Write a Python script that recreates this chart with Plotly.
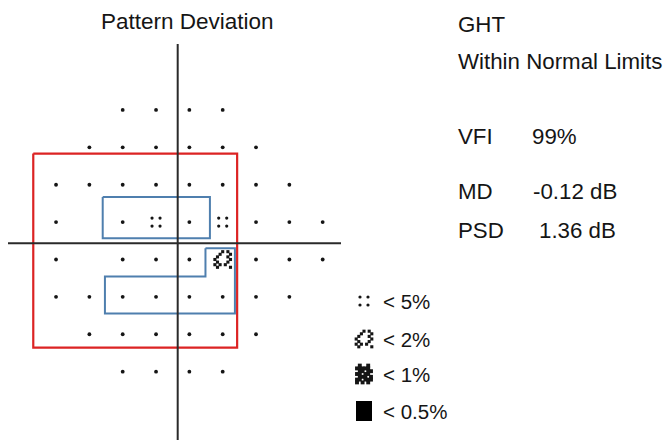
import plotly.graph_objects as go

# ---- Test grid (24-2, degrees), one list per row, blind spot omitted ----
ROW_Y = [21, 15, 9, 3, -3, -9, -15, -21]
ROW_X = [
    [-9, -3, 3, 9],
    [-15, -9, -3, 3, 9, 15],
    [-21, -15, -9, -3, 3, 9, 15, 21],
    [-21, -9, -3, 3, 9, 15, 21, 27],
    [-21, -9, -3, 3, 9, 15, 21, 27],
    [-21, -15, -9, -3, 3, 9, 15, 21],
    [-15, -9, -3, 3, 9, 15],
    [-9, -3, 3, 9],
]
# pattern deviation probability at flagged points (everything else is normal)
FLAGGED_X = [-3, 9, 9]
FLAGGED_Y = [3, 3, -3]
FLAGGED_P = ["<5%", "<5%", "<2%"]

LEGEND_LEVELS = ["<5%", "<2%", "<1%", "<0.5%"]
LEGEND_LABELS = ["< 5%", "< 2%", "< 1%", "< 0.5%"]

# GHT sector outlines (degrees)
RED_BOX_X = [-25.1, 11.6, 11.6, -25.1, -25.1]
RED_BOX_Y = [14.0, 14.0, -17.15, -17.15, 14.0]
BLUE_UP_X = [-12.6, 6.7, 6.7, -12.6, -12.6]
BLUE_UP_Y = [7.05, 7.05, 0.4, 0.4, 7.05]
BLUE_LO_X = [5.9, 11.2, 11.2, -12.2, -12.2, 5.9, 5.9]
BLUE_LO_Y = [-1.2, -1.2, -11.65, -11.65, -5.75, -5.75, -1.2]

# index values
INFO_LINES = [
    ("GHT", None),
    ("Within Normal Limits", None),
    ("VFI", "99%"),
    ("MD", "-0.12 dB"),
    ("PSD", "1.36 dB"),
]

W, H = 670, 440
X0, XS = 172.7, 33.33 / 6.0   # pixel of 0 deg, pixels per degree
Y0, YS = 240.8, 37.38 / 6.0

def px_to_x(px):
    return (px - X0) / XS

def py_to_y(py):
    return (Y0 - py) / YS

INK = "#151515"
FONT = "Liberation Sans, Arial, Helvetica, sans-serif"

# glyph cell patterns (rows top->bottom)
GLYPHS = {
    "<2%": [
        "...X.X.",
        "..X...X",
        ".X...X.",
        "X.....X",
        ".X...X.",
        "X.X.X..",
        ".X....X",
    ],
    "<1%": [
        ".X..X.",
        "XXXXX.",
        ".XX.XX",
        "XX.XX.",
        ".XXX.X",
        "XX.XXX",
        "X.X.X.",
    ],
}


def glyph_points(level, cx, cy):
    """Return x/y lists (degrees) of the sub-dots making a probability glyph."""
    xs, ys = [], []
    if level == "<5%":
        for dx in (-4, 4):
            for dy in (-4, 4):
                xs.append(cx + dx / XS)
                ys.append(cy + dy / YS)
        return xs, ys, 3.2
    rows = GLYPHS[level]
    n = len(rows)
    step = 2.6 if level == "<2%" else 2.8
    for r, row in enumerate(rows):
        for c, ch in enumerate(row):
            if ch == "X":
                dx = (c - (len(row) - 1) / 2) * step
                dy = (r - (n - 1) / 2) * step
                xs.append(cx + dx / XS)
                ys.append(cy - dy / YS)
    return xs, ys, 3.1 if level == "<2%" else 3.9


flag_lookup = {(x, y): p for x, y, p in zip(FLAGGED_X, FLAGGED_Y, FLAGGED_P)}

fig = go.Figure()

# normal points
nx, ny = [], []
for y, row in zip(ROW_Y, ROW_X):
    for x in row:
        if (x, y) not in flag_lookup:
            nx.append(x)
            ny.append(y)
fig.add_trace(go.Scatter(x=nx, y=ny, mode="markers",
                         marker=dict(size=3.8, color=INK, symbol="circle"),
                         hoverinfo="skip", showlegend=False))

# flagged points
for (x, y), p in flag_lookup.items():
    gx, gy, s = glyph_points(p, x, y)
    fig.add_trace(go.Scatter(x=gx, y=gy, mode="markers",
                             marker=dict(size=s, color=INK, symbol="square"
                                         if p != "<5%" else "circle"),
                             hoverinfo="skip", showlegend=False))

# sector outlines
fig.add_trace(go.Scatter(x=RED_BOX_X, y=RED_BOX_Y, mode="lines",
                         line=dict(color="#dc2323", width=2.2),
                         hoverinfo="skip", showlegend=False))
for bx, by in ((BLUE_UP_X, BLUE_UP_Y), (BLUE_LO_X, BLUE_LO_Y)):
    fig.add_trace(go.Scatter(x=bx, y=by, mode="lines",
                             line=dict(color="#4f7fae", width=2),
                             hoverinfo="skip", showlegend=False))

# cross-hair axes
fig.add_shape(type="line", x0=px_to_x(177.7), x1=px_to_x(177.7),
              y0=py_to_y(44), y1=py_to_y(445), line=dict(color="#2a2a2a", width=2))
fig.add_shape(type="line", x0=px_to_x(8), x1=px_to_x(341),
              y0=py_to_y(243.3), y1=py_to_y(243.3), line=dict(color="#2a2a2a", width=2))

# legend glyphs and labels
LEG_PX = 364
LEG_PY = [301, 339, 374, 411]
for lvl, lab, py in zip(LEGEND_LEVELS, LEGEND_LABELS, LEG_PY):
    cx, cy = px_to_x(LEG_PX), py_to_y(py)
    if lvl == "<0.5%":
        fig.add_shape(type="rect", x0=px_to_x(356), x1=px_to_x(372),
                      y0=py_to_y(py - 10), y1=py_to_y(py + 10),
                      fillcolor="#000000", line=dict(width=0))
    else:
        gx, gy, s = glyph_points(lvl, cx, cy)
        fig.add_trace(go.Scatter(x=gx, y=gy, mode="markers",
                                 marker=dict(size=s, color=INK,
                                             symbol="square" if lvl != "<5%" else "circle"),
                                 hoverinfo="skip", showlegend=False))
    fig.add_annotation(x=381 / W, y=1 - py / H, xref="paper", yref="paper",
                       text=lab, showarrow=False, xanchor="left", yanchor="middle",
                       font=dict(family=FONT, size=20.5, color=INK))

# title
fig.add_annotation(x=187.5 / W, y=1 - 21 / H, xref="paper", yref="paper",
                   text="Pattern Deviation", showarrow=False,
                   xanchor="center", yanchor="middle",
                   font=dict(family=FONT, size=22.5, color=INK))

# index block
INFO_PY = [24, 62, 137, 192, 230]
VALUE_PX = [None, None, 530, 531, 537]
for (label, value), py, vpx in zip(INFO_LINES, INFO_PY, VALUE_PX):
    fig.add_annotation(x=456 / W, y=1 - py / H, xref="paper", yref="paper",
                       text=label, showarrow=False, xanchor="left", yanchor="middle",
                       font=dict(family=FONT, size=22.3, color=INK))
    if value is not None:
        fig.add_annotation(x=vpx / W, y=1 - py / H, xref="paper", yref="paper",
                           text=value, showarrow=False, xanchor="left",
                           yanchor="middle",
                           font=dict(family=FONT, size=22.3, color=INK))

fig.update_xaxes(range=[px_to_x(0), px_to_x(W)], visible=False, fixedrange=True)
fig.update_yaxes(range=[py_to_y(H), py_to_y(0)], visible=False, fixedrange=True)
fig.update_layout(width=W, height=H, margin=dict(l=0, r=0, t=0, b=0),
                  paper_bgcolor="white", plot_bgcolor="white")

fig.write_html("out.html")
